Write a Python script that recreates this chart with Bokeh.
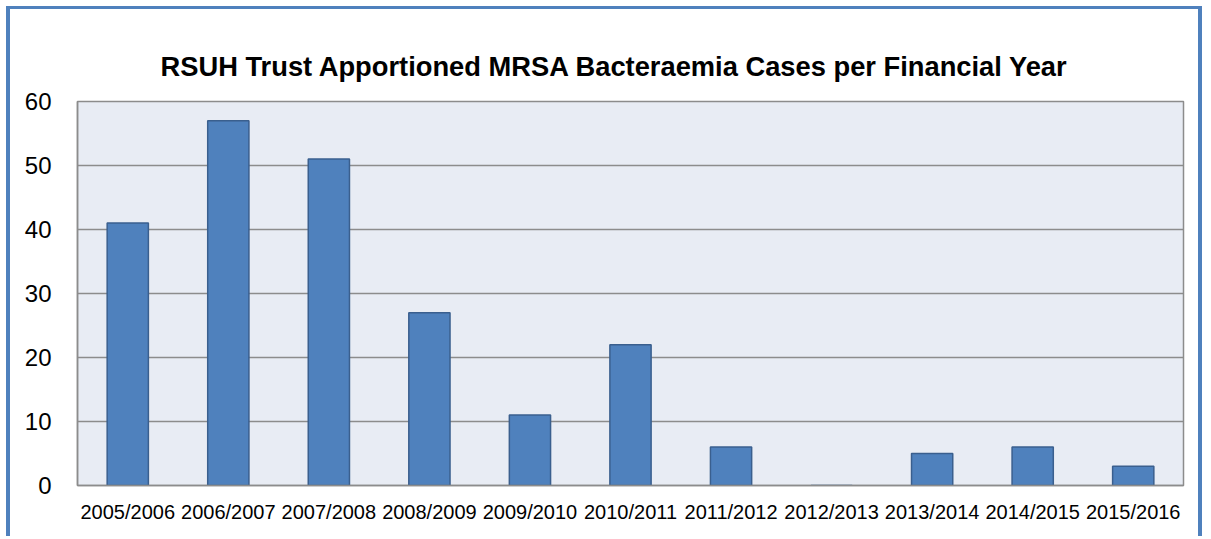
from bokeh.plotting import figure
from bokeh.embed import file_html
from bokeh.resources import INLINE
from bokeh.models import FactorRange, Range1d, FixedTicker, Title

years = ["2005/2006", "2006/2007", "2007/2008", "2008/2009", "2009/2010", "2010/2011",
         "2011/2012", "2012/2013", "2013/2014", "2014/2015", "2015/2016"]
cases = [41, 57, 51, 27, 11, 22, 6, 0, 5, 6, 3]
y_ticks = [0, 10, 20, 30, 40, 50, 60]

p = figure(width=1196, height=530, output_backend="svg", toolbar_location=None,
           x_range=FactorRange(*years, range_padding=0), y_range=Range1d(0, 60),
           title="RSUH Trust Apportioned MRSA Bacteraemia Cases per Financial Year",
           min_border_left=67, min_border_right=23, min_border_top=92, min_border_bottom=54)

p.vbar(x=years, top=cases, width=0.41, fill_color="#4F81BD", line_color="#3A5F8E", line_width=1.5)

p.background_fill_color = "#E8ECF4"
p.border_fill_color = "white"
p.outline_line_color = "#8C8C8C"
p.outline_line_width = 1.5
p.styles = {"margin-left": "6px", "margin-top": "6px",
            "border-left": "4px solid #4F81BD", "border-right": "4px solid #4F81BD",
            "border-top": "3px solid #4F81BD", "border-bottom": "none"}

# invisible spacer between the frame and the title
p.add_layout(Title(text="\u00a0", text_font_size="1px", standoff=16, text_alpha=0), "above")

p.title.align = "left"
p.title.offset = 83
p.title.text_font = "Liberation Sans"
p.title.text_font_size = "27.3px"
p.title.text_font_style = "bold"
p.title.text_color = "black"
p.title.standoff = 40

p.xgrid.grid_line_color = None
p.ygrid.grid_line_color = "#8C8C8C"
p.ygrid.grid_line_width = 1.5

p.yaxis.ticker = FixedTicker(ticks=y_ticks)
p.yaxis.major_label_text_font = "Liberation Sans"
p.yaxis.major_label_text_font_size = "24px"
p.yaxis.major_label_text_color = "black"
p.yaxis.major_label_standoff = 20
p.yaxis.major_tick_line_color = None
p.yaxis.minor_tick_line_color = None
p.yaxis.axis_line_color = "#8C8C8C"
p.yaxis.axis_line_width = 1.5

p.xaxis.major_label_text_font = "Liberation Sans"
p.xaxis.major_label_text_font_size = "20px"
p.xaxis.major_label_text_color = "black"
p.xaxis.major_label_standoff = 9
p.xaxis.major_tick_line_color = None
p.xaxis.axis_line_color = "#8C8C8C"
p.xaxis.axis_line_width = 1.5

open("out.html", "w").write(file_html(p, INLINE))
